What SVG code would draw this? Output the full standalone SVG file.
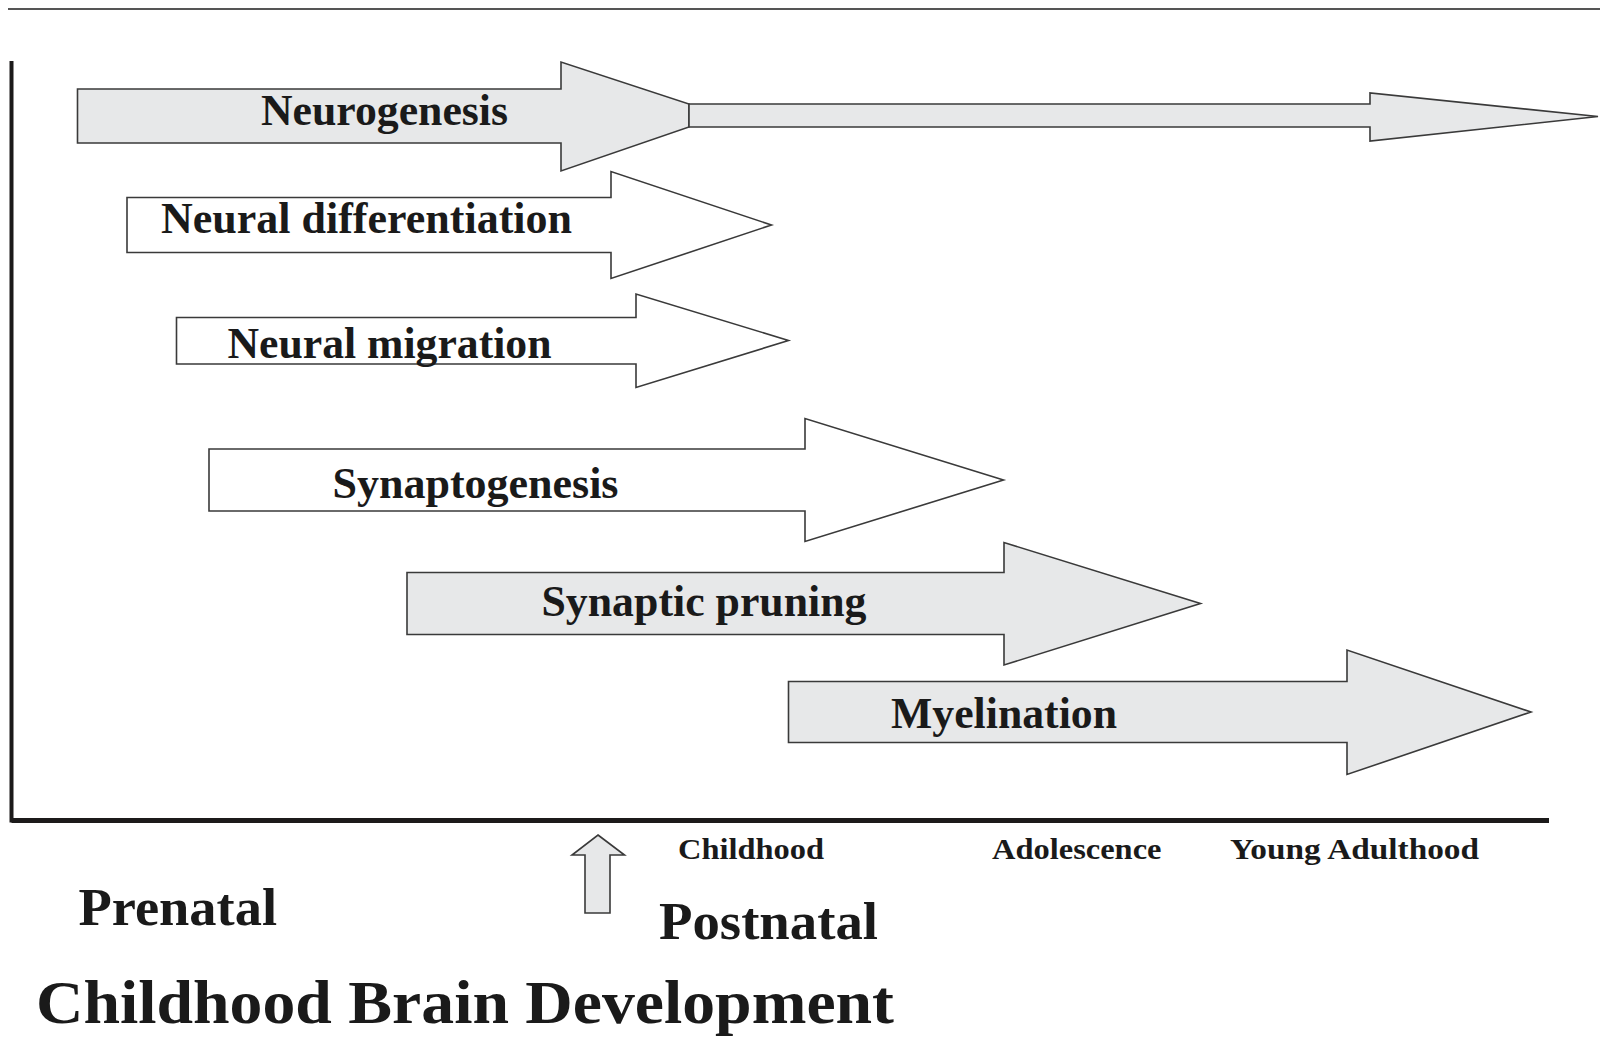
<svg xmlns="http://www.w3.org/2000/svg" width="1600" height="1037" viewBox="0 0 1600 1037">
  <style>
    .lbl { font-family: "Liberation Serif", "Times New Roman", serif; font-weight: bold; fill: #1a1a1a; }
    .arrow { stroke: #3a3a3a; stroke-width: 1.6; stroke-linejoin: miter; }
    .grey { fill: #e7e8e9; }
    .white { fill: #ffffff; }
    .axis { stroke: #1c1a1a; fill: none; }
  </style>
  <rect width="1600" height="1037" fill="#ffffff"/>

  <!-- page rule -->
  <line x1="8" y1="9" x2="1600" y2="9" stroke="#555" stroke-width="2"/>

  <!-- axes -->
  <g id="axes">
    <polyline class="axis" points="11.5,61 11.5,820.5 1549,820.5" stroke-width="4"/>
    <line class="axis" x1="11.5" y1="820.5" x2="1549" y2="820.5" stroke-width="5"/>
  </g>

  <!-- process arrows -->
  <g id="neurogenesis">
    <polygon class="arrow grey" points="77.5,89 561,89 561,62 689,104 689,127 561,171 561,143 77.5,143"/>
    <polygon class="arrow grey" points="689,104 1370,104 1370,93 1598,116.5 1370,141 1370,127 689,127"/>
    <text class="lbl" x="261" y="125" font-size="44" textLength="247" lengthAdjust="spacingAndGlyphs">Neurogenesis</text>
  </g>

  <g id="neural-differentiation">
    <polygon class="arrow white" points="127,197.5 611,197.5 611,171.5 771.5,225 611,278.5 611,252.5 127,252.5"/>
    <text class="lbl" x="161" y="233" font-size="44" textLength="411" lengthAdjust="spacingAndGlyphs">Neural differentiation</text>
  </g>

  <g id="neural-migration">
    <polygon class="arrow white" points="176.5,317.5 636,317.5 636,294 788.5,340.5 636,387.5 636,364 176.5,364"/>
    <text class="lbl" x="227.5" y="358" font-size="44" textLength="324" lengthAdjust="spacingAndGlyphs">Neural migration</text>
  </g>

  <g id="synaptogenesis">
    <polygon class="arrow white" points="209,449 805,449 805,418.5 1003.5,480 805,541.5 805,511 209,511" stroke="#6a6a6a"/>
    <text class="lbl" x="332.5" y="498" font-size="44" textLength="286" lengthAdjust="spacingAndGlyphs">Synaptogenesis</text>
  </g>

  <g id="synaptic-pruning">
    <polygon class="arrow grey" points="407,572.5 1004,572.5 1004,542.5 1200.5,603.5 1004,665 1004,634.5 407,634.5"/>
    <text class="lbl" x="541.5" y="616" font-size="44" textLength="325" lengthAdjust="spacingAndGlyphs">Synaptic pruning</text>
  </g>

  <g id="myelination">
    <polygon class="arrow grey" points="788.5,681.5 1347,681.5 1347,650 1531,712 1347,774.5 1347,742.5 788.5,742.5"/>
    <text class="lbl" x="891" y="728" font-size="44" textLength="226" lengthAdjust="spacingAndGlyphs">Myelination</text>
  </g>

  <!-- birth marker -->
  <g id="birth-marker">
    <polygon class="arrow grey" points="598,835 624.5,855 610,855 610,913 585,913 585,855 572,855" stroke="#555" stroke-width="1.4"/>
  </g>

  <!-- timeline labels -->
  <g id="stage-labels">
    <text class="lbl" x="678" y="859" font-size="30" textLength="146" lengthAdjust="spacingAndGlyphs">Childhood</text>
    <text class="lbl" x="992" y="859" font-size="30" textLength="169.5" lengthAdjust="spacingAndGlyphs">Adolescence</text>
    <text class="lbl" x="1230" y="859" font-size="30" textLength="249" lengthAdjust="spacingAndGlyphs">Young Adulthood</text>
    <text class="lbl" x="78.5" y="925" font-size="52" textLength="198.5" lengthAdjust="spacingAndGlyphs">Prenatal</text>
    <text class="lbl" x="659" y="939" font-size="52" textLength="219" lengthAdjust="spacingAndGlyphs">Postnatal</text>
  </g>

  <!-- title -->
  <text id="title" class="lbl" x="36" y="1023" font-size="62" textLength="858" lengthAdjust="spacingAndGlyphs">Childhood Brain Development</text>
</svg>
